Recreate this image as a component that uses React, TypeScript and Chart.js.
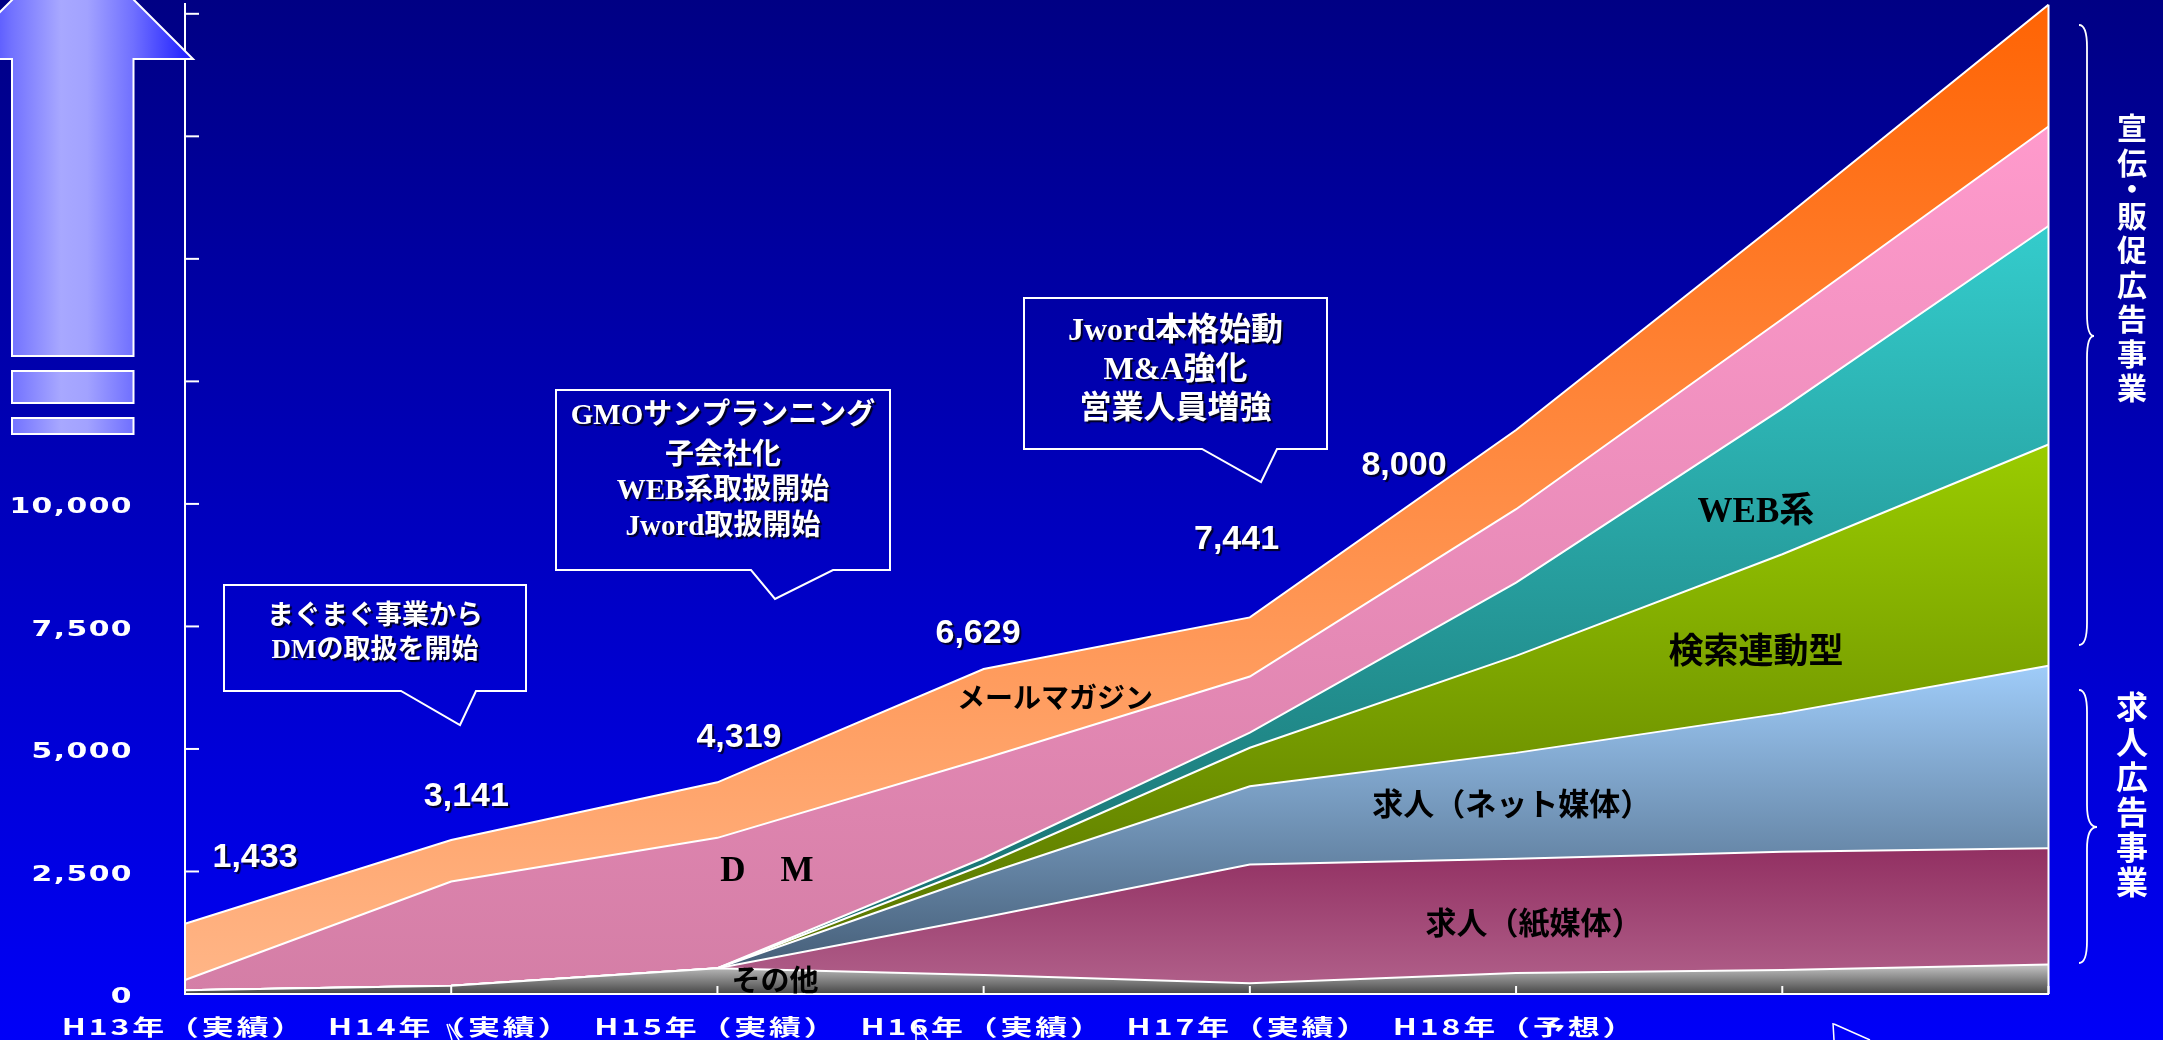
import React, { useEffect, useRef } from "react";
import { Chart, registerables } from "chart.js";

Chart.register(...registerables);

const WIDTH = 2163;
const HEIGHT = 1040;

// ---------------- data ----------------
const categories = [
  "H13年（実績）",
  "H14年（実績）",
  "H15年（実績）",
  "H16年（実績）",
  "H17年（実績）",
  "H18年（予想）",
  "",
  "",
];
const sonota = [75, 170, 525, 390, 220, 430, 490, 600];
const kamiBaitai = [0, 0, 0, 1170, 2420, 2330, 2410, 2375];
const netBaitai = [0, 0, 0, 873, 1600, 2160, 2826, 3724];
const kensakuRendo = [0, 0, 0, 205, 785, 1980, 3247, 4514];
const webKei = [0, 0, 0, 137, 307, 1495, 2970, 4457];
const dmValues = [211, 2124, 2661, 2025, 1145, 1497, 1830, 2031];
const mailMagazine = [1147, 847, 1133, 1830, 1207, 1615, 2030, 2485];

const seriesNames = [
  "その他",
  "求人（紙媒体）",
  "求人（ネット媒体）",
  "検索連動型",
  "WEB系",
  "D　M",
  "メールマガジン",
];
const seriesValues = [sonota, kamiBaitai, netBaitai, kensakuRendo, webKei, dmValues, mailMagazine];

const totalLabels = ["1,433", "3,141", "4,319", "6,629", "7,441", "8,000"];

const yStep = 2500;
const yTickMax = 20000;
const yMax = 20200;
const yLabelMax = 10000;

const callout1 = ["まぐまぐ事業から", "DMの取扱を開始"];
const callout2 = ["GMOサンプランニング", "子会社化", "WEB系取扱開始", "Jword取扱開始"];
const callout3 = ["Jword本格始動", "M&A強化", "営業人員増強"];
const braceUpperText = "宣伝・販促広告事業";
const braceLowerText = "求人広告事業";

// ---------------- styles ----------------
const seriesTopColors = ["#c6c6c6", "#923062", "#9fccf9", "#9acc00", "#34cccc", "#ff9acc", "#ff6404"];
const seriesBottomColors = ["#464646", "#b2628c", "#3e556d", "#536d00", "#166666", "#d47ea6", "#ffb688"];

function areaGradient(context: any, index: number) {
  const chart = context.chart;
  const y = chart.scales && chart.scales.y;
  if (!chart.chartArea || !y) return seriesTopColors[index];
  let maxCum = 0;
  for (let k = 0; k < categories.length; k++) {
    let s = 0;
    for (let j = 0; j <= index; j++) s += seriesValues[j][k];
    if (s > maxCum) maxCum = s;
  }
  const y0 = y.getPixelForValue(maxCum);
  const y1 = y.getPixelForValue(0);
  const g = chart.ctx.createLinearGradient(0, y0, 0, y1);
  g.addColorStop(0, seriesTopColors[index]);
  g.addColorStop(1, seriesBottomColors[index]);
  return g;
}

function drawText(
  ctx: CanvasRenderingContext2D,
  str: string,
  x: number,
  y: number,
  font: string,
  color: string,
  opts: { sx?: number; spacing?: number; shadow?: boolean; align?: CanvasTextAlign } = {}
) {
  ctx.save();
  ctx.font = font;
  ctx.fillStyle = color;
  ctx.textAlign = opts.align || "center";
  ctx.textBaseline = "middle";
  (ctx as any).letterSpacing = (opts.spacing || 0) + "px";
  if (opts.shadow) {
    ctx.shadowColor = "rgba(0,0,0,0.8)";
    ctx.shadowOffsetX = 2;
    ctx.shadowOffsetY = 2;
    ctx.shadowBlur = 1;
  }
  ctx.translate(x, y);
  ctx.scale(opts.sx || 1, 1);
  ctx.fillText(str, 0, 0);
  ctx.restore();
}

function drawCallout(
  ctx: CanvasRenderingContext2D,
  l: number,
  t: number,
  r: number,
  b: number,
  tail: number[][]
) {
  ctx.save();
  ctx.beginPath();
  ctx.moveTo(l, t);
  ctx.lineTo(r, t);
  ctx.lineTo(r, b);
  ctx.lineTo(tail[2][0], b);
  ctx.lineTo(tail[1][0], tail[1][1]);
  ctx.lineTo(tail[0][0], b);
  ctx.lineTo(l, b);
  ctx.closePath();
  ctx.strokeStyle = "#ffffff";
  ctx.lineWidth = 2;
  ctx.stroke();
  ctx.restore();
}

function drawBrace(ctx: CanvasRenderingContext2D, xEnd: number, xStem: number, xCusp: number, top: number, mid: number, bottom: number) {
  ctx.save();
  ctx.beginPath();
  ctx.moveTo(xEnd, top);
  ctx.quadraticCurveTo(xStem, top, xStem, top + 22);
  ctx.lineTo(xStem, mid - 22);
  ctx.quadraticCurveTo(xStem, mid, xCusp, mid);
  ctx.quadraticCurveTo(xStem, mid, xStem, mid + 22);
  ctx.lineTo(xStem, bottom - 22);
  ctx.quadraticCurveTo(xStem, bottom, xEnd, bottom);
  ctx.strokeStyle = "#ffffff";
  ctx.lineWidth = 1.8;
  ctx.stroke();
  ctx.restore();
}

function drawArrow(ctx: CanvasRenderingContext2D) {
  ctx.save();
  const g = ctx.createLinearGradient(-47, 0, 193, 0);
  g.addColorStop(0, "#1c1cff");
  g.addColorStop(0.245, "#7272ff");
  g.addColorStop(0.45, "#a8a8ff");
  g.addColorStop(0.56, "#a2a2ff");
  g.addColorStop(0.75, "#7070ff");
  g.addColorStop(1, "#1a1aff");
  ctx.fillStyle = g;
  ctx.strokeStyle = "#ffffff";
  ctx.lineWidth = 2;
  ctx.beginPath();
  ctx.moveTo(12, 356);
  ctx.lineTo(12, 59);
  ctx.lineTo(-47, 59);
  ctx.lineTo(73, -61);
  ctx.lineTo(193, 59);
  ctx.lineTo(133.5, 59);
  ctx.lineTo(133.5, 356);
  ctx.closePath();
  ctx.fill();
  ctx.stroke();
  ctx.fillRect(12, 371, 121.5, 32);
  ctx.strokeRect(12, 371, 121.5, 32);
  ctx.fillRect(12, 418, 121.5, 16);
  ctx.strokeRect(12, 418, 121.5, 16);
  ctx.restore();
}

const overlayPlugin = {
  id: "overlay",
  beforeDraw(chart: any) {
    const ctx: CanvasRenderingContext2D = chart.ctx;
    ctx.save();
    const g = ctx.createLinearGradient(0, 0, 0, HEIGHT);
    g.addColorStop(0, "#000084");
    g.addColorStop(1, "#0000f8");
    ctx.fillStyle = g;
    ctx.fillRect(0, 0, WIDTH, HEIGHT);
    ctx.restore();
  },
  afterDraw(chart: any) {
    const ctx: CanvasRenderingContext2D = chart.ctx;
    const x = chart.scales.x;
    const y = chart.scales.y;
    const last = categories.length - 1;
    const xAt = (i: number) => {
      const a = x.getPixelForValue(0);
      const b = x.getPixelForValue(last);
      return a + ((b - a) * i) / last;
    };
    const base = y.getPixelForValue(0);

    // right edge of the stacked areas
    let topLast = 0;
    seriesValues.forEach((s) => (topLast += s[last]));
    ctx.save();
    ctx.strokeStyle = "#ffffff";
    ctx.lineWidth = 2;
    ctx.beginPath();
    ctx.moveTo(x.getPixelForValue(last), y.getPixelForValue(topLast));
    ctx.lineTo(x.getPixelForValue(last), base);
    ctx.stroke();

    // inward tick marks
    for (let i = 1; i <= last; i++) {
      const px = x.getPixelForValue(i);
      ctx.beginPath();
      ctx.moveTo(px, base);
      ctx.lineTo(px, base - 8);
      ctx.stroke();
    }
    const left = x.getPixelForValue(0);
    const yTicks: number[] = [];
    for (let v = 0; v <= yTickMax; v += yStep) yTicks.push(v);
    yTicks.forEach((v) => {
      const py = y.getPixelForValue(v);
      ctx.beginPath();
      ctx.moveTo(left, py);
      ctx.lineTo(left + 14, py);
      ctx.stroke();
    });
    ctx.restore();

    // y labels
    yTicks.forEach((v) => {
      if (v > yLabelMax) return;
      drawText(ctx, v.toLocaleString("en-US"), 133, y.getPixelForValue(v) + 4, "bold 21px 'DejaVu Sans', sans-serif", "#ffffff", { sx: 1.42, spacing: 1, align: "right" });
    });

    // x labels
    categories.forEach((c, i) => {
      if (!c) return;
      drawText(ctx, c, x.getPixelForValue(i) - 1, 1027, "bold 22px 'Noto Sans CJK JP', sans-serif", "#ffffff", { sx: 1.45, spacing: 2 });
    });

    // series labels (annotation layout: [index position, value position])
    const seriesLabelPos = [
      [2.216, 286],
      [5.067, 1469],
      [4.984, 3897],
      [5.901, 7019],
      [5.901, 9814],
      [2.186, 2489],
      [3.268, 6060],
    ];
    const seriesLabelFont = [
      "bold 29px 'Noto Sans CJK JP', sans-serif",
      "bold 31px 'Noto Sans CJK JP', sans-serif",
      "bold 31px 'Noto Sans CJK JP', sans-serif",
      "bold 35px 'Noto Sans CJK JP', sans-serif",
      "bold 35px 'Liberation Serif', 'Noto Sans CJK JP', serif",
      "bold 35px 'Liberation Serif', 'Noto Sans CJK JP', serif",
      "bold 28px 'Noto Sans CJK JP', sans-serif",
    ];
    seriesNames.forEach((n, i) => {
      const [xi, yv] = seriesLabelPos[i];
      drawText(ctx, n, xAt(xi), y.getPixelForValue(yv), seriesLabelFont[i], "#000000");
    });

    // total value labels
    const totalLabelPos = [
      [0.263, 2775],
      [1.057, 4020],
      [2.081, 5223],
      [2.979, 7356],
      [3.95, 9263],
      [4.579, 10773],
    ];
    totalLabels.forEach((s, i) => {
      const [xi, yv] = totalLabelPos[i];
      drawText(ctx, s, xAt(xi), y.getPixelForValue(yv), "bold 34px 'Liberation Sans', Arial, sans-serif", "#ffffff", { shadow: true });
    });

    // callouts
    drawCallout(ctx, 224, 585, 526, 691, [[401, 691], [460, 725], [476, 691]]);
    const f1 = "bold 27px 'Liberation Serif', 'Noto Sans CJK JP', serif";
    drawText(ctx, callout1[0], 375, 617, f1, "#ffffff", { shadow: true });
    drawText(ctx, callout1[1], 375, 651, f1, "#ffffff", { shadow: true });

    drawCallout(ctx, 556, 390, 890, 570, [[751, 570], [775, 599], [833, 570]]);
    const f2 = "bold 29px 'Liberation Serif', 'Noto Sans CJK JP', serif";
    const c2y = [417, 457, 492, 528];
    callout2.forEach((s, i) => drawText(ctx, s, 723, c2y[i], f2, "#ffffff", { shadow: true }));

    drawCallout(ctx, 1024, 298, 1327, 449, [[1202, 449], [1261, 482], [1277, 449]]);
    const f3 = "bold 32px 'Liberation Serif', 'Noto Sans CJK JP', serif";
    const c3y = [332, 371, 410];
    callout3.forEach((s, i) => drawText(ctx, s, 1175.5, c3y[i], f3, "#ffffff", { shadow: true }));

    // arrow
    drawArrow(ctx);

    // braces and vertical texts
    drawBrace(ctx, 2079, 2087, 2094, 25, 336, 645);
    drawBrace(ctx, 2079, 2087, 2097, 690, 827, 963);
    let vy = 128;
    Array.from(braceUpperText).forEach((ch, i, arr) => {
      drawText(ctx, ch, 2132, vy, "bold 30px 'Noto Sans CJK JP', sans-serif", "#ffffff");
      const next = arr[i + 1];
      vy += ch === "・" || next === "・" ? 26.5 : 34.5;
    });
    Array.from(braceLowerText).forEach((ch, i) => {
      drawText(ctx, ch, 2132, 707 + i * 35, "bold 32px 'Noto Sans CJK JP', sans-serif", "#ffffff");
    });

    // clipped shapes at the bottom edge
    ctx.save();
    ctx.strokeStyle = "#ffffff";
    ctx.lineWidth = 1.5;
    ctx.beginPath();
    ctx.moveTo(447, 1024);
    ctx.lineTo(452, 1040);
    ctx.moveTo(449, 1024);
    ctx.lineTo(459, 1040);
    ctx.moveTo(916, 1022);
    ctx.lineTo(916, 1040);
    ctx.moveTo(917, 1025);
    ctx.lineTo(928, 1040);
    ctx.moveTo(1833, 1023);
    ctx.lineTo(1834, 1040);
    ctx.moveTo(1834, 1024);
    ctx.lineTo(1870, 1040);
    ctx.stroke();
    ctx.restore();
  },
};

export default function App() {
  const ref = useRef<HTMLCanvasElement>(null);
  useEffect(() => {
    document.body.style.margin = "0";
    document.body.style.overflow = "hidden";
    const canvas = ref.current;
    if (!canvas) return;
    const chart = new Chart(canvas, {
      type: "line",
      data: {
        labels: categories,
        datasets: seriesNames.map((name, i) => ({
          label: name,
          data: seriesValues[i],
          fill: i === 0 ? "origin" : "-1",
          borderColor: "#ffffff",
          borderWidth: 2,
          pointRadius: 0,
          pointHoverRadius: 0,
          tension: 0,
          backgroundColor: (c: any) => areaGradient(c, i),
        })),
      },
      options: {
        animation: false,
        responsive: false,
        maintainAspectRatio: false,
        events: [],
        layout: { padding: { left: 185, right: 114.5, top: 4, bottom: 46 } },
        plugins: { legend: { display: false }, tooltip: { enabled: false } },
        scales: {
          x: {
            type: "category",
            offset: false,
            grid: { display: false, drawTicks: false, tickLength: 0 },
            ticks: { display: false },
            border: { display: true, color: "#ffffff", width: 2, z: 1 },
          },
          y: {
            stacked: true,
            min: 0,
            max: yMax,
            grid: { display: false, drawTicks: false, tickLength: 0 },
            ticks: { display: false, stepSize: yStep },
            border: { display: true, color: "#ffffff", width: 2, z: 1 },
          },
        },
      } as any,
      plugins: [overlayPlugin],
    });
    return () => chart.destroy();
  }, []);
  return (
    <div style={{ position: "fixed", left: 0, top: 0, width: WIDTH, height: HEIGHT }}>
      <canvas ref={ref} width={WIDTH} height={HEIGHT} style={{ width: WIDTH, height: HEIGHT, display: "block" }} />
    </div>
  );
}
